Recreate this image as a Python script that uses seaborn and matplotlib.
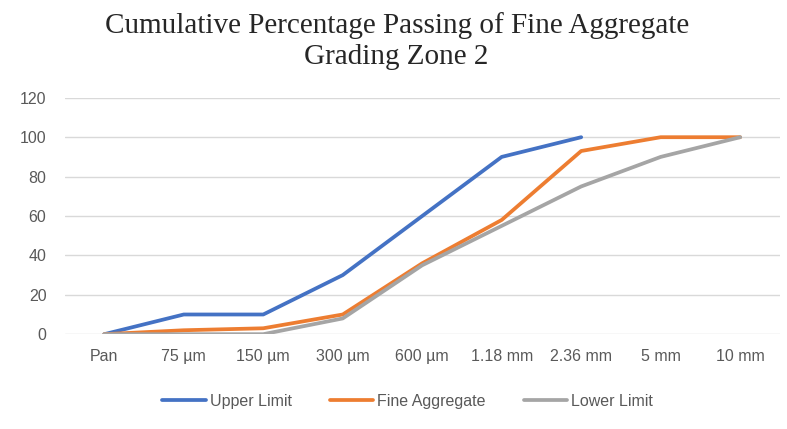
import pandas as pd
import numpy as np
import matplotlib.pyplot as plt
import seaborn as sns

sieves = ['Pan', '75 µm', '150 µm', '300 µm', '600 µm', '1.18 mm', '2.36 mm', '5 mm', '10 mm']
upper = [0, 10, 10, 30, 60, 90, 100, np.nan, np.nan]
fine = [0, 2, 3, 10, 36, 58, 93, 100, 100]
lower = [0, 0, 0, 8, 35, 55, 75, 90, 100]

series = {'Upper Limit': upper, 'Fine Aggregate': fine, 'Lower Limit': lower}
colors = {'Upper Limit': '#4472C4', 'Fine Aggregate': '#ED7D31', 'Lower Limit': '#A5A5A5'}

rows = []
for name, vals in series.items():
    for i, v in enumerate(vals):
        rows.append({'pos': i, 'sieve': sieves[i], 'series': name, 'value': v})
df = pd.DataFrame(rows).dropna()

sns.set_style('white')
plt.rcParams['font.family'] = ['Liberation Sans', 'DejaVu Sans']

fig = plt.figure(figsize=(7.87, 4.29), dpi=100)
ax = fig.add_axes([0.082, 0.221, 0.909, 0.551])

sns.lineplot(data=df, x='pos', y='value', hue='series', palette=colors,
             hue_order=list(series.keys()), linewidth=2.7, ax=ax, legend=False,
             sort=False)

ax.set_xlim(-0.5, len(sieves) - 0.5)
ax.set_ylim(0, 120)
ax.set_yticks(range(0, 121, 20))
ax.set_xticks(range(len(sieves)))
ax.set_xticklabels(sieves)
ax.tick_params(axis='both', colors='#595959', labelsize=11.5, length=0)
ax.tick_params(axis='x', pad=11)
ax.tick_params(axis='y', pad=13)
ax.yaxis.grid(True, color='#D9D9D9', linewidth=1)
ax.set_axisbelow(True)
for s in ax.spines.values():
    s.set_visible(False)
ax.set_xlabel('')
ax.set_ylabel('')

fig.text(0.504, 0.94, 'Cumulative Percentage Passing of Fine Aggregate',
         ha='center', va='center', fontsize=21, family='Liberation Serif')
fig.text(0.504, 0.867, 'Grading Zone 2',
         ha='center', va='center', fontsize=21, family='Liberation Serif')

handles = [plt.Line2D([], [], color=colors[k], linewidth=2.7) for k in series]
fig.legend(handles, list(series.keys()), loc='center', bbox_to_anchor=(0.518, 0.065),
           ncol=3, frameon=False, fontsize=11.5, handlelength=2.7, handletextpad=0.25,
           columnspacing=2.4, labelcolor='#595959')

fig.savefig('out.png', dpi=100)
